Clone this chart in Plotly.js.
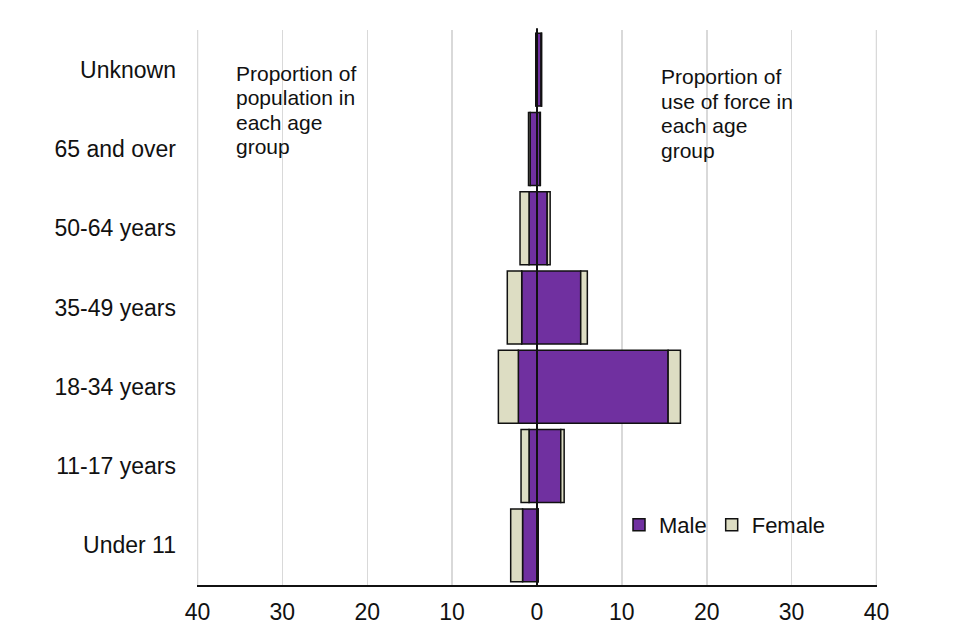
<!DOCTYPE html>
<html>
<head>
<meta charset="utf-8">
<script src="https://cdn.plot.ly/plotly-3.0.1.min.js"></script>
<style>html,body{margin:0;padding:0;background:#fff;}#chart{width:960px;height:640px;}</style>
</head>
<body>
<div id="chart"></div>
<script>
// Categories, bottom to top
var categories = ['Under 11', '11-17 years', '18-34 years', '35-49 years', '50-64 years', '65 and over', 'Unknown'];
// Proportion of population in each age group (drawn to the left)
var popMale   = [1.7, 0.94, 2.2, 1.8, 0.94, 0.8, 0.15];
var popFemale = [1.4, 0.94, 2.35, 1.7, 1.06, 0.2, 0.0];
// Proportion of use of force in each age group (drawn to the right)
var forceMale   = [0.1, 2.8, 15.45, 5.15, 1.2, 0.35, 0.5];
var forceFemale = [0.05, 0.4, 1.45, 0.78, 0.35, 0.05, 0.05];
// Axis ticks
var tickValues = [-40, -30, -20, -10, 0, 10, 20, 30, 40];
var tickLabels = ['40', '30', '20', '10', '0', '10', '20', '30', '40'];
// Notes
var leftNote = ['Proportion of', 'population in', 'each age', 'group'];
var rightNote = ['Proportion of', 'use of force in', 'each age', 'group'];

var MALE = '#7030A0', FEMALE = '#DDDDC3';
var FONT = 'Liberation Sans, Arial, sans-serif';
var TXT = '#111';

function neg(a){ return a.map(function(v){ return -v; }); }
function bar(x, name, color, show){
  return {type:'bar', orientation:'h', x:x, y:categories, name:name, legendgroup:name,
    showlegend:show, marker:{color:color, line:{color:'#111', width:1.5}}, hoverinfo:'x+y+name'};
}
var traces = [
  bar(neg(popMale), 'Male', MALE, true),
  bar(forceMale, 'Male', MALE, false),
  bar(neg(popFemale), 'Female', FEMALE, true),
  bar(forceFemale, 'Female', FEMALE, false)
];

function py(px){ return (585 - px) / 555; }
var annotations = [];
var LINE = 24.6;
leftNote.forEach(function(t, i){
  annotations.push({text:t, xref:'paper', yref:'paper', x:(234-197)/680, y:py(73 + i * LINE),
    xanchor:'left', yanchor:'middle', showarrow:false, font:{family:FONT, size:21, color:TXT}});
});
rightNote.forEach(function(t, i){
  annotations.push({text:t, xref:'paper', yref:'paper', x:(659-197)/680, y:py(76.5 + i * LINE),
    xanchor:'left', yanchor:'middle', showarrow:false, font:{family:FONT, size:21, color:TXT}});
});

// Edge grid lines (plotly omits grid lines on the range ends)
var edgeTicks = [tickValues[0], tickValues[tickValues.length - 1]];
var shapes = edgeTicks.map(function(v){
  return {type:'line', xref:'x', yref:'paper', x0:v, x1:v, y0:0, y1:1, layer:'below',
    line:{color:'#d9d9d9', width:1.5}};
});
shapes.push({type:'line', xref:'x', yref:'paper', x0:0, x1:0, y0:0, y1:1.003, layer:'above',
  line:{color:'#111', width:2}});

var layout = {
  width:960, height:640,
  margin:{l:197, r:83, t:30, b:55},
  paper_bgcolor:'#fff', plot_bgcolor:'#fff',
  barmode:'relative', bargap:0.08,
  font:{family:FONT, color:TXT},
  xaxis:{range:[-40.06,40.06], tickvals:tickValues, ticktext:tickLabels, tickfont:{size:23, color:TXT},
    showgrid:true, gridcolor:'#d9d9d9', gridwidth:1.5, zeroline:false,
    showline:true, linecolor:'#111', linewidth:1.5, ticks:'', ticklabelstandoff:6, fixedrange:true},
  yaxis:{type:'category', tickfont:{size:23, color:TXT}, showgrid:false, zeroline:false,
    showline:false, ticks:'', ticklabelstandoff:20, fixedrange:true},
  shapes:shapes,
  annotations:annotations,
  showlegend:true,
  legend:{orientation:'h', x:(619-197)/680, xanchor:'left', y:py(525), yanchor:'middle',
    font:{family:FONT, size:22, color:TXT}, bgcolor:'rgba(0,0,0,0)', itemwidth:30,
    traceorder:'normal', itemclick:false}
};

Plotly.newPlot('chart', traces, layout, {displayModeBar:false, staticPlot:true});
</script>
</body>
</html>
